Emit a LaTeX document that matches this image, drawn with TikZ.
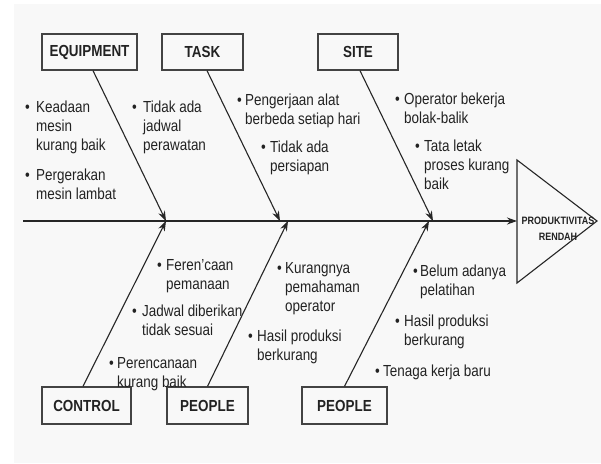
\documentclass[tikz,border=0pt]{standalone}
\usepackage{fontspec}
\setmainfont{Liberation Sans}[FakeStretch=0.84]
\usetikzlibrary{arrows.meta}
\definecolor{bg}{HTML}{F8F8F8}
\definecolor{ink}{HTML}{222222}
\begin{document}
\begin{tikzpicture}[x=1pt,y=-1pt,
  catbox/.style={draw=ink!85, line width=1.3pt, minimum height=36pt, inner sep=0pt, font=\fontsize{16}{19}\selectfont\bfseries, text=ink},
  bone/.style={line width=1.1pt, draw=black!85, -{Stealth[length=10pt,width=7pt]}},
  bul/.style={anchor=base west, inner sep=0pt, font=\fontsize{16}{19}\selectfont, text=ink},
  itm/.style={anchor=base west, inner sep=0pt, align=left, font=\fontsize{16}{19}\selectfont, text=ink},
]
\useasboundingbox (0,0) rectangle (601,463);
\fill[white] (0,0) rectangle (601,463);
\fill[bg] (14,4) rectangle (601,463);

% category boxes
\node[catbox, minimum width=95pt] (eq) at (89.5,52) {EQUIPMENT};
\node[catbox, minimum width=81pt] (task) at (202.5,52) {TASK};
\node[catbox, minimum width=80pt] (site) at (358,52) {SITE};
\node[catbox, minimum width=89pt, minimum height=37pt] (ctrl) at (86.5,405.5) {CONTROL};
\node[catbox, minimum width=81pt, minimum height=37pt] (ppl1) at (207.5,405.5) {PEOPLE};
\node[catbox, minimum width=85pt, minimum height=37pt] (ppl2) at (344.5,405.5) {PEOPLE};

% spine and head
\coordinate (sp) at (23,221);
\coordinate (tl) at (517,160);
\coordinate (tt) at (597,221);
\coordinate (tb) at (517,283);
\coordinate (tm) at (517,221);
\draw[line width=1.1pt, draw=black!85] (tl) -- (tt) -- (tb) -- cycle;
\draw[bone] (sp) -- (tm);
\node[inner sep=0pt, align=center, font=\fontsize{10.7}{16}\selectfont\bfseries, text=ink] (res) at (558,229) {PRODUKTIVITAS\\RENDAH};

% junctions
\coordinate (j1) at (166,221);
\coordinate (j2a) at (280,221);
\coordinate (j2b) at (288,221);
\coordinate (j3a) at (433,221);
\coordinate (j3b) at (429,221);

\draw[bone] ([xshift=3.5pt]eq.south) -- (j1);
\draw[bone] ([xshift=4.5pt]task.south) -- (j2a);
\draw[bone] ([xshift=2pt]site.south) -- (j3a);
\draw[bone] ([xshift=-3.5pt]ctrl.north) -- (j1);
\draw[bone] (ppl1.north) -- (j2b);
\draw[bone] (ppl2.north) -- (j3b);

% causes (text nodes anchored at the baseline of their last line)
\node[bul] (b1) at (25,112) {\textbullet};
\node[itm] (t1) at (36,150) {Keadaan\\mesin\\kurang baik};
\node[bul] (b2) at (25,180) {\textbullet};
\node[itm] (t2) at (36,199) {Pergerakan\\mesin lambat};
\node[bul] (b3) at (132,112) {\textbullet};
\node[itm] (t3) at (143,150) {Tidak ada\\jadwal\\perawatan};
\node[bul] (b4) at (237,105) {\textbullet};
\node[itm] (t4) at (245,124) {Pengerjaan alat\\berbeda setiap hari};
\node[bul] (b5) at (261,152) {\textbullet};
\node[itm] (t5) at (270,171) {Tidak ada\\persiapan};
\node[bul] (b6) at (395,104) {\textbullet};
\node[itm] (t6) at (404,123) {Operator bekerja\\bolak-balik};
\node[bul] (b7) at (415,151) {\textbullet};
\node[itm] (t7) at (424,189) {Tata letak\\proses kurang\\baik};
\node[bul] (b8) at (157,270) {\textbullet};
\node[itm] (t8) at (166,289) {Feren’caan\\pemanaan};
\node[bul] (b9) at (132,316) {\textbullet};
\node[itm] (t9) at (142,335) {Jadwal diberikan\\tidak sesuai};
\node[bul] (b10) at (109,368) {\textbullet};
\node[itm] (t10) at (117,387) {Perencanaan\\kurang baik};
\node[bul] (b11) at (277,273) {\textbullet};
\node[itm] (t11) at (285,311) {Kurangnya\\pemahaman\\operator};
\node[bul] (b12) at (248,341) {\textbullet};
\node[itm] (t12) at (257,360) {Hasil produksi\\berkurang};
\node[bul] (b13) at (413,276) {\textbullet};
\node[itm] (t13) at (420,295) {Belum adanya\\pelatihan};
\node[bul] (b14) at (395,326) {\textbullet};
\node[itm] (t14) at (404,345) {Hasil produksi\\berkurang};
\node[bul] (b15) at (375,376) {\textbullet};
\node[itm] (t15) at (383,376) {Tenaga kerja baru};
\end{tikzpicture}
\end{document}
